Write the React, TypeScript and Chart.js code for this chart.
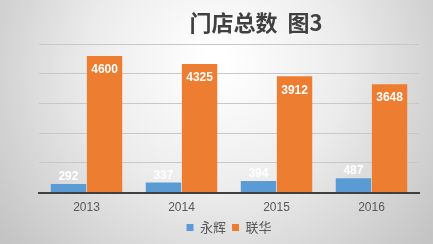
import React, { useEffect, useRef } from "react";
import { Chart, registerables } from "chart.js";

Chart.register(...registerables);

const categories = ["2013", "2014", "2015", "2016"];
const yonghui = [292, 337, 394, 487];
const lianhua = [4600, 4325, 3912, 3648];
const seriesNames = ["永辉", "联华"];
const titleText = "门店总数  图3";

const bgPlugin = {
  id: "bg",
  beforeDraw(chart: any) {
    const { ctx, width, height } = chart;
    ctx.save();
    const g = ctx.createRadialGradient(width * 0.5, height * 0.25, 10, width * 0.5, height * 0.3, width * 0.62);
    g.addColorStop(0, "#ffffff");
    g.addColorStop(0.45, "#ececec");
    g.addColorStop(1, "#c4c4c4");
    ctx.fillStyle = g;
    ctx.fillRect(0, 0, width, height);
    ctx.font = "bold 22px 'Noto Sans CJK SC', sans-serif";
    ctx.fillStyle = "#404040";
    ctx.textAlign = "center";
    ctx.textBaseline = "middle";
    ctx.fillText(titleText, 256, 23);
    ctx.restore();
  },
};

const labelPlugin = {
  id: "labels",
  afterDatasetsDraw(chart: any) {
    const { ctx } = chart;
    ctx.save();
    ctx.fillStyle = "#ffffff";
    ctx.textAlign = "center";
    ctx.textBaseline = "middle";
    ctx.font = "bold 12px 'Liberation Sans', Arial, sans-serif";
    chart.data.datasets.forEach((ds: any, di: number) => {
      const meta = chart.getDatasetMeta(di);
      meta.data.forEach((bar: any, i: number) => {
        const v = ds.data[i];
        const y = di === 0 ? bar.y - 7 : bar.y + 14;
        ctx.fillText(String(v), bar.x, y);
      });
    });
    ctx.restore();
  },
};

export default function App() {
  const ref = useRef<HTMLCanvasElement>(null);
  useEffect(() => {
    document.body.style.margin = "0";
    const chart = new Chart(ref.current!, {
      type: "bar",
      data: {
        labels: categories,
        datasets: [
          { label: seriesNames[0], data: yonghui, backgroundColor: "#5b9bd5", borderWidth: 0 },
          { label: seriesNames[1], data: lianhua, backgroundColor: "#ed7d31", borderWidth: 0 },
        ],
      },
      options: {
        responsive: false,
        animation: false,
        layout: { padding: { left: 39, right: 14, top: 44, bottom: 0 } },
        datasets: { bar: { categoryPercentage: 0.76, barPercentage: 0.98 } } as any,
        scales: {
          x: {
            grid: { display: false },
            border: { display: true, color: "#404040", width: 2 },
            ticks: { color: "#595959", font: { size: 12, family: "'Liberation Sans', Arial, sans-serif" }, padding: 0 },
          },
          y: {
            min: 0,
            max: 5000,
            ticks: { display: false, stepSize: 1000 },
            grid: { color: "#c8c8c8", drawTicks: false },
            border: { display: false },
          },
        },
        plugins: {
          title: { display: false },
          tooltip: { enabled: false },
          legend: {
            position: "bottom",
            labels: {
              boxWidth: 7,
              boxHeight: 7,
              padding: 6,
              color: "#595959",
              font: { size: 13, family: "'Noto Sans CJK SC', sans-serif" },
            },
          },
        },
      },
      plugins: [bgPlugin, labelPlugin],
    });
    return () => chart.destroy();
  }, []);
  return <canvas ref={ref} width={433} height={244} style={{ display: "block" }} />;
}
